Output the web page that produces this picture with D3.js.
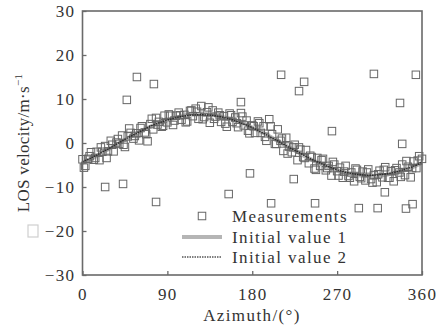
<!DOCTYPE html>
<html><head><meta charset="utf-8">
<script src="https://cdn.jsdelivr.net/npm/d3@7/dist/d3.min.js"></script>
<style>body{margin:0;background:#fff}svg{display:block}text{font-family:"Liberation Serif","Times New Roman",serif;fill:#333}</style>
</head><body><svg id="c" width="438" height="331"></svg>
<script>
// ---- data ----
const xTicks = [0, 90, 180, 270, 360];
const yTicks = [-30, -20, -10, 0, 10, 20, 30];
const lineAz = d3.range(0, 361, 10);
const line1 = [-4.5,-3.5,-2.3,-1.1,0.1,1.3,2.5,3.5,4.5,5.2,5.8,6.3,6.5,6.5,6.3,5.8,5.2,4.5,3.5,2.5,1.3,0.1,-1.1,-2.3,-3.5,-4.5,-5.5,-6.2,-6.8,-7.3,-7.5,-7.5,-7.3,-6.8,-6.2,-5.5,-4.5];
const line2 = [-4.3,-3.3,-2.2,-1.0,0.2,1.4,2.5,3.6,4.5,5.2,5.8,6.2,6.4,6.4,6.2,5.8,5.2,4.4,3.5,2.4,1.3,0.1,-1.1,-2.2,-3.4,-4.4,-5.3,-6.1,-6.7,-7.1,-7.3,-7.3,-7.1,-6.7,-6.1,-5.4,-4.4];
const measAzA = d3.range(0, 361, 3);
const measVA = [-3.7,-5.2,-3.6,-2.1,-3.8,-2.0,-3.9,-2.0,-0.7,-1.9,0.5,-1.9,0.1,-0.2,1.7,-0.9,1.5,2.3,1.0,2.2,
 0.6,3.8,2.4,0.4,4.3,3.1,5.7,4.8,3.7,6.2,4.7,6.2,4.1,6.2,6.9,5.3,6.4,4.9,7.3,6.1,
 7.8,5.5,8.4,5.9,7.0,4.6,7.4,6.0,6.9,4.8,6.1,3.7,6.7,4.8,5.8,3.6,6.8,4.0,5.1,2.2,
 4.0,2.3,4.9,2.3,3.8,0.5,5.4,2.0,-0.2,3.1,0.5,-1.8,1.2,-0.8,-2.1,-0.4,-3.9,-1.5,-3.2,-1.6,
 -4.6,-3.2,-5.8,-3.4,-5.2,-3.6,-6.2,-5.2,-7.4,-4.9,-6.4,-5.6,-7.9,-5.2,-7.5,-6.7,-8.7,-6.1,-7.7,-6.5,
 -8.5,-6.0,-8.2,-7.3,-8.9,-6.3,-7.8,-5.5,-7.9,-6.4,-8.7,-5.7,-6.7,-4.9,-7.3,-5.4,-7.8,-4.2,-5.7,-3.0,-3.6];
const measAzB = d3.range(1.5, 360, 6);
const measVB = [-5.6,-3.0,-3.4,-1.0,-3.4,-0.4,0.9,-0.4,3.3,1.6,3.4,2.0,5.5,4.2,3.9,6.5,5.1,6.3,4.7,7.4,
 7.1,5.4,8.1,5.5,6.3,4.4,6.3,4.5,6.0,2.8,3.8,4.5,1.4,3.8,-0.2,1.0,-2.4,-1.0,-1.0,-3.4,
 -2.9,-6.1,-3.9,-5.7,-4.3,-7.4,-6.5,-7.9,-5.8,-8.0,-6.7,-9.0,-7.1,-6.1,-7.9,-6.2,-7.7,-4.1,-5.7,-4.0];
const outAz = [24,43,78,47,57.7,75.7,210.6,235,229.6,168,309,353.5,336.7,264.5,339,177.6,224,155,200,246.6,293,313,320.6,343,350];
const outV  = [-10,-9.3,-13.4,9.8,15,13.4,15.5,13.9,11.8,9.3,15.7,15.5,9.1,2.7,-0.2,-6.9,-8.2,-11.6,-13.7,-13.7,-14.8,-14.8,-11.2,-14.9,-13.9];
const legendLabels = ["Measurements", "Initial value 1", "Initial value 2"];

// ---- chart ----
const svg = d3.select("#c");
const x = d3.scaleLinear().domain([0, 360]).range([82.5, 422]);
const y = d3.scaleLinear().domain([-30, 30]).range([275, 11]);
const fs = 17, ls = "1.4px";
const axisColor = "#6a6a6a";
const sqColor = "#666";

const meas = measAzA.map((a,i)=>[a, measVA[i]])
  .concat(measAzB.map((a,i)=>[a, measVB[i]]))
  .concat(outAz.map((a,i)=>[a, outV[i]]));

const lineGen = d3.line().x(d=>x(d[0])).y(d=>y(d[1])).curve(d3.curveCatmullRom);
svg.append("path").datum(lineAz.map((a,i)=>[a,line1[i]])).attr("d", lineGen)
  .attr("fill","none").attr("stroke","#b5b5b5").attr("stroke-width",4);

const sq = 7.5;
svg.append("g").selectAll("rect").data(meas).join("rect")
  .attr("x", d=>x(d[0])-sq/2).attr("y", d=>y(d[1])-sq/2)
  .attr("width", sq).attr("height", sq)
  .attr("fill","none").attr("stroke",sqColor).attr("stroke-width",1);

svg.append("path").datum(lineAz.map((a,i)=>[a,line2[i]])).attr("d", lineGen)
  .attr("fill","none").attr("stroke","#2a2a2a").attr("stroke-width",1.4).attr("stroke-dasharray","1.5,1");

// frame
svg.append("rect").attr("x", x(0)).attr("y", y(30)).attr("width", x(360)-x(0)).attr("height", y(-30)-y(30))
  .attr("fill","none").attr("stroke",axisColor).attr("stroke-width",1.6);

// axes
const xAxis = svg.append("g").attr("transform", `translate(0,${y(-30)})`)
  .call(d3.axisBottom(x).tickValues(xTicks).tickSizeInner(-4).tickSizeOuter(0).tickPadding(10));
const yAxis = svg.append("g").attr("transform", `translate(${x(0)},0)`)
  .call(d3.axisLeft(y).tickValues(yTicks).tickSizeInner(-4).tickSizeOuter(0).tickPadding(8)
    .tickFormat(d => d < 0 ? "\u2212" + Math.abs(d) : d));
[xAxis, yAxis].forEach(g => {
  g.select(".domain").remove();
  g.selectAll(".tick line").attr("stroke", axisColor).attr("stroke-width",1.3);
  g.selectAll("text").attr("font-size", fs).attr("font-family","Liberation Serif").attr("fill","#333").style("letter-spacing", ls);
});
xAxis.selectAll("text").attr("dy","0.9em");
yAxis.selectAll("text").attr("dx","1px");

// titles
svg.append("text").attr("x", 252).attr("y", 321).attr("text-anchor","middle")
  .attr("font-size", fs).style("letter-spacing", ls).text("Azimuth/(°)");
const yt = svg.append("text").attr("transform","translate(29,143) rotate(-90)").attr("text-anchor","middle")
  .attr("font-size", fs).style("letter-spacing", "0.3px");
yt.append("tspan").text("LOS velocity/m·s");
yt.append("tspan").attr("dy", -7).attr("font-size", 11).text("\u22121");

// stray marker artifact at left
svg.append("rect").attr("x", 28).attr("y", 225).attr("width", 10).attr("height", 12)
  .attr("fill","none").attr("stroke","#cfcfcf").attr("stroke-width",1.2);

// legend
const lg = svg.append("g");
const rows = [216, 237, 257];
lg.append("rect").attr("x", 202-sq/2).attr("y", rows[0]-sq/2).attr("width", sq).attr("height", sq)
  .attr("fill","none").attr("stroke",sqColor);
lg.append("line").attr("x1",182).attr("x2",222).attr("y1",rows[1]).attr("y2",rows[1])
  .attr("stroke","#b5b5b5").attr("stroke-width",4);
lg.append("line").attr("x1",182).attr("x2",222).attr("y1",rows[2]).attr("y2",rows[2])
  .attr("stroke","#555").attr("stroke-width",1.3).attr("stroke-dasharray","1.5,1");
lg.selectAll("text.l").data(legendLabels).join("text").attr("class","l")
  .attr("x", 232).attr("y", (d,i)=>rows[i]+6).attr("font-size", fs).style("letter-spacing", ls).text(d=>d);
</script></body></html>
